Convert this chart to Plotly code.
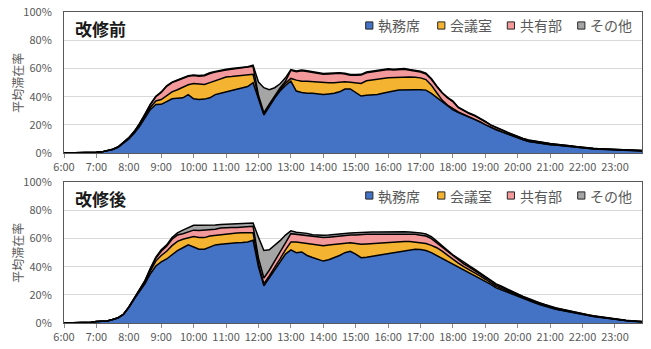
import plotly.graph_objects as go

# Time slots: 10-minute steps from 6:00 to 23:50
TIMES = [f"{h}:{m:02d}" for h in range(6, 24) for m in range(0, 60, 10)]
HOURS = [int(t.split(":")[0]) + int(t.split(":")[1]) / 60 for t in TIMES]
TICK_HOURS = list(range(6, 24))
TICK_LABELS = [f"{h}:00" for h in TICK_HOURS]

SERIES_NAMES = ["執務席", "会議室", "共有部", "その他"]
PANEL_TITLES = ["改修前", "改修後"]

# 改修前 (average occupancy, %)
BEFORE_DESK = [
    0, 0, 0, 0.3, 0.3, 0.4,
    0.5, 0.8, 1.5, 2.5, 4, 7,
    10, 14, 19, 25, 31, 34.5,
    34.6, 36.5, 38.5, 39, 39.2, 41.5,
    38.5, 38, 38.3, 39.2, 41.5, 42.5,
    43.5, 44.5, 45, 46, 47.2, 50,
    38, 27, 33, 39, 44, 48,
    51, 44, 43, 42.4, 42.4, 41.8,
    41.6, 42, 42.4, 43.5, 45.5, 45.5,
    43, 40.5, 41, 41.3, 41.6, 42.5,
    43.5, 44, 44.8, 45, 45, 45,
    45, 44.7, 42.4, 39.3, 36.5, 33.4,
    30.6, 28.8, 27, 25.5, 24, 22,
    20, 18, 16.5, 15, 13.5, 12,
    10.6, 9.3, 8.2, 7.5, 7, 6.3,
    5.9, 5.6, 5.4, 5.2, 4.5, 4,
    3.5, 3.2, 2.9, 2.7, 2.5, 2.4,
    2.2, 1.9, 1.7, 1.6, 1.5, 1.5,
]
BEFORE_MEETING = [
    0, 0, 0, 0, 0, 0,
    0, 0, 0, 0, 0.1, 0.2,
    0.3, 0.4, 0.8, 1, 1.5, 2.5,
    3.4, 4.5, 5, 6, 7.8, 7,
    10.9, 10.8, 10.4, 10.8, 10, 10.5,
    10.5, 9.8, 9.6, 9, 8.1, 6,
    1.5, 0.8, 0.8, 0.8, 1, 1.5,
    2, 7.8, 8, 8.6, 8.3, 8.4,
    8.4, 8, 7.6, 6.8, 5.1, 4.8,
    6.8, 8.9, 10.3, 10.7, 10.9, 10.5,
    9.9, 9.6, 9.2, 9, 9, 8.8,
    8.4, 7.5, 5.8, 3.5, 1.1, 0.7,
    0.9, 0.4, 0.4, 0.3, 0.3, 0.3,
    0.2, 0.2, 0.2, 0.2, 0.2, 0.2,
    0.1, 0.1, 0.1, 0.1, 0.1, 0.1,
    0.1, 0.1, 0.1, 0.1, 0.1, 0.1,
    0.1, 0.1, 0.1, 0.1, 0.1, 0.1,
    0.1, 0.1, 0.1, 0.1, 0.1, 0.1,
]
BEFORE_SHARED = [
    0, 0, 0, 0, 0, 0,
    0, 0, 0, 0.1, 0.2, 0.3,
    0.5, 0.8, 1, 1.5, 2, 3,
    5, 6.4, 6.5, 6.5, 6, 6,
    5.6, 5.8, 6.2, 6.5, 6, 5.5,
    5, 5.2, 5.4, 5.3, 5.4, 5.6,
    1.5, 0.8, 1, 1, 1.2, 1.5,
    5.8, 6, 7.5, 7, 6.8, 6.5,
    6, 6.2, 6.5, 6.3, 5.5, 5,
    5.5, 6, 5.7, 5.5, 5.8, 6,
    5.9, 5.4, 5.5, 5.5, 4.8, 4.6,
    4.2, 4, 4.2, 4.5, 5, 5,
    5, 3, 2.6, 2.3, 2.2, 2.2,
    2, 1.6, 1.2, 1.1, 1, 0.9,
    0.8, 0.7, 0.7, 0.7, 0.7, 0.6,
    0.6, 0.5, 0.4, 0.4, 0.3, 0.3,
    0.3, 0.2, 0.2, 0.2, 0.2, 0.2,
    0.2, 0.2, 0.1, 0.1, 0.1, 0.1,
]
BEFORE_OTHER = [
    0, 0, 0, 0, 0, 0,
    0, 0, 0, 0.1, 0.1, 0.1,
    0.1, 0.2, 0.2, 0.3, 0.3, 0.3,
    0.4, 0.4, 0.4, 0.4, 0.4, 0.4,
    0.5, 0.5, 0.5, 0.5, 0.5, 0.5,
    0.5, 0.5, 0.5, 0.5, 0.6, 0.8,
    9.4, 17.8, 10.2, 5.6, 3, 2.4,
    0.4, 0.5, 0.5, 0.5, 0.5, 0.5,
    0.5, 0.5, 0.5, 0.5, 0.5, 0.5,
    0.5, 0.5, 0.5, 0.5, 0.5, 0.5,
    0.5, 0.5, 0.5, 0.5, 0.5, 0.5,
    0.5, 0.5, 0.5, 0.4, 0.4, 0.4,
    0.4, 0.3, 0.3, 0.3, 0.3, 0.3,
    0.2, 0.2, 0.2, 0.2, 0.2, 0.2,
    0.2, 0.2, 0.2, 0.2, 0.2, 0.2,
    0.1, 0.1, 0.1, 0.1, 0.1, 0.1,
    0.1, 0.1, 0.1, 0.1, 0.1, 0.1,
    0.1, 0.1, 0.1, 0.1, 0.1, 0.1,
]

# 改修後 (average occupancy, %)
AFTER_DESK = [
    0, 0, 0, 0, 0.2, 0.5,
    1, 1.2, 1.5, 2.5, 3.5, 6,
    11, 17, 23, 28, 35, 40.5,
    43.5, 45.5, 48.5, 51.5, 53.5, 55.5,
    54, 52.5, 52.5, 54, 55.5, 56,
    56.5, 56.8, 57, 57.2, 57.6, 58.8,
    40, 26.5, 32, 37.7, 43.6, 49,
    52, 50, 50.5, 48, 46.5, 45,
    44, 45, 46.4, 48, 50, 51,
    49, 46.4, 46.8, 47.4, 48, 49,
    49.5, 50, 50.5, 51, 51.8, 52.4,
    52.2, 51.5, 50, 48, 46, 43.5,
    41.5, 39.5, 37.5, 36, 34, 32,
    29.8, 27.5, 25, 23.5, 22, 20.5,
    18.6, 17.2, 15.8, 14.5, 13.2, 11.9,
    10.7, 9.8, 9, 8.2, 7.4, 6.6,
    6, 5.3, 4.6, 4, 3.5, 2.9,
    2.4, 2, 1.6, 1.3, 1, 0.8,
]
AFTER_MEETING = [
    0, 0, 0, 0, 0, 0,
    0, 0, 0, 0, 0.1, 0.1,
    0.2, 0.3, 0.5, 1, 2, 3.5,
    4.5, 5.5, 6.5, 6.5, 6, 5,
    7.5, 8.3, 8.2, 7.8, 6.8, 7,
    7, 6.8, 7, 6.9, 6.6, 5.4,
    2, 1.5, 1.5, 1.5, 2, 3,
    5.5, 7.5, 6.5, 8.5, 9.5, 10.5,
    11, 10.5, 9.6, 8.5, 7, 6,
    7.5, 9.6, 9.4, 9.1, 8.8, 8,
    7.5, 7.3, 7, 6.9, 6.1, 5.1,
    4.8, 5, 5.2, 5.5, 5, 4.5,
    3.5, 3, 2.5, 2, 1.8, 1.5,
    1.3, 1.2, 1, 0.9, 0.8, 0.7,
    0.6, 0.5, 0.5, 0.4, 0.4, 0.4,
    0.3, 0.3, 0.3, 0.3, 0.2, 0.2,
    0.2, 0.2, 0.2, 0.2, 0.1, 0.1,
    0.1, 0.1, 0.1, 0.1, 0.1, 0.1,
]
AFTER_SHARED = [
    0, 0, 0, 0, 0, 0,
    0, 0, 0, 0, 0.1, 0.1,
    0.1, 0.2, 0.5, 1, 1.5, 2,
    3, 3.5, 4.5, 4.5, 4, 4,
    4.5, 5, 5.2, 4.5, 4.3, 4.5,
    4.3, 4.2, 3.8, 4, 4.2, 4.5,
    4, 4, 4, 4.5, 4.5, 5,
    6, 5.5, 6, 6, 5.6, 5.5,
    5.7, 5.5, 5.5, 5.5, 5.2, 5.5,
    6.1, 7, 6.8, 6.5, 6.2, 6,
    6, 5.8, 5.5, 5.2, 5.1, 5.5,
    5.4, 5.3, 4.8, 3.5, 3, 2.5,
    2.4, 2.2, 2, 1.8, 1.6, 1.5,
    1.3, 1.2, 1.1, 1, 0.9, 0.8,
    0.7, 0.6, 0.6, 0.5, 0.5, 0.5,
    0.4, 0.4, 0.4, 0.3, 0.3, 0.3,
    0.3, 0.2, 0.2, 0.2, 0.2, 0.2,
    0.1, 0.1, 0.1, 0.1, 0.1, 0.1,
]
AFTER_OTHER = [
    0, 0, 0, 0, 0, 0,
    0, 0, 0, 0, 0.1, 0.1,
    0.1, 0.1, 0.2, 0.3, 0.5, 0.8,
    1, 1, 1.2, 1.5, 2.5, 3,
    3.4, 3.6, 3.5, 3, 3, 2.5,
    2.3, 2.5, 2.8, 2.6, 2.4, 2.3,
    15, 19.5, 14.5, 11.3, 8.4, 5.5,
    2, 1.5, 1.3, 1.2, 1.1, 1.3,
    1.7, 1.6, 1.5, 1.5, 1.6, 1.5,
    1.5, 1.4, 1.5, 1.6, 1.7, 1.8,
    1.8, 1.8, 1.7, 1.7, 1.6, 1.5,
    1.5, 1.4, 1.3, 1.2, 1.2, 1.2,
    1.1, 1, 1, 0.9, 0.9, 0.8,
    0.8, 0.7, 0.7, 0.7, 0.6, 0.6,
    0.5, 0.5, 0.5, 0.4, 0.4, 0.4,
    0.4, 0.3, 0.3, 0.3, 0.3, 0.3,
    0.2, 0.2, 0.2, 0.2, 0.2, 0.2,
    0.2, 0.2, 0.1, 0.1, 0.1, 0.1,
]

COLORS = ["#4472C4", "#F4B432", "#F4999B", "#A5A5A5"]
FONT = "Noto Sans CJK JP"
GREY = "#595959"
W, H = 651, 349

panels = [
    [BEFORE_DESK, BEFORE_MEETING, BEFORE_SHARED, BEFORE_OTHER],
    [AFTER_DESK, AFTER_MEETING, AFTER_SHARED, AFTER_OTHER],
]

# Plot-area geometry in pixels (left, right, top, bottom per panel)
PX_LEFT, PX_RIGHT = 64, 642
PANEL_PX = [(12.3, 153.0), (182.3, 323.0)]


def px_x(x):
    return x / W


def px_y(y):
    return 1 - y / H


fig = go.Figure()

for p, series in enumerate(panels):
    xa = "x" if p == 0 else "x2"
    ya = "y" if p == 0 else "y2"
    for name, vals, color in zip(SERIES_NAMES, series, COLORS):
        fig.add_trace(go.Scatter(
            x=HOURS, y=vals, name=name, xaxis=xa, yaxis=ya,
            mode="lines", stackgroup=f"panel{p}",
            fillcolor=color, line=dict(color="#000000", width=1.5),
            showlegend=False,
        ))

axis_common_x = dict(
    range=[HOURS[0], HOURS[-1]], tickvals=TICK_HOURS, ticktext=TICK_LABELS,
    ticks="outside", ticklen=4, tickcolor="#8c8c8c", tickwidth=1,
    showline=True, linecolor=GREY, linewidth=1, mirror=True,
    showgrid=False, zeroline=False, automargin=False,
    tickfont=dict(family=FONT, size=11, color=GREY),
    domain=[px_x(PX_LEFT), px_x(PX_RIGHT)],
)
axis_common_y = dict(
    range=[0, 100], dtick=20, ticksuffix="%",
    showline=True, linecolor=GREY, linewidth=1, mirror=True,
    showgrid=True, gridcolor="#d9d9d9", gridwidth=1, zeroline=False,
    ticks="", ticklabelstandoff=9, automargin=False,
    tickfont=dict(family=FONT, size=11, color=GREY),
)

fig.update_layout(
    width=W, height=H,
    margin=dict(l=0, r=0, t=0, b=0, autoexpand=False),
    paper_bgcolor="white", plot_bgcolor="white",
    xaxis=dict(anchor="y", **axis_common_x),
    xaxis2=dict(anchor="y2", **axis_common_x),
    yaxis=dict(anchor="x", domain=[px_y(PANEL_PX[0][1]), px_y(PANEL_PX[0][0])], **axis_common_y),
    yaxis2=dict(anchor="x2", domain=[px_y(PANEL_PX[1][1]), px_y(PANEL_PX[1][0])], **axis_common_y),
    showlegend=False,
)

annotations = []
shapes = []
LEGEND_SQ_X = [365.7, 437.7, 507.3, 577.7]
SQ = 7.2
for p, (top, bottom) in enumerate(PANEL_PX):
    # Panel title
    annotations.append(dict(
        text=f"<b>{PANEL_TITLES[p]}</b>", xref="paper", yref="paper",
        x=px_x(73), y=px_y(top + 16.5), xanchor="left", yanchor="middle",
        showarrow=False, font=dict(family=FONT, size=17, color="#1a1a1a"),
    ))
    # Y-axis title
    annotations.append(dict(
        text="平均滞在率", xref="paper", yref="paper",
        x=px_x(18), y=px_y((top + bottom) / 2), textangle=-90,
        xanchor="center", yanchor="middle", showarrow=False,
        font=dict(family=FONT, size=12, color=GREY),
    ))
    # Legend swatches and labels
    cy = top + 13.2
    for name, color, sx in zip(SERIES_NAMES, COLORS, LEGEND_SQ_X):
        shapes.append(dict(
            type="rect", xref="paper", yref="paper",
            x0=px_x(sx), x1=px_x(sx + SQ), y0=px_y(cy + SQ / 2), y1=px_y(cy - SQ / 2),
            fillcolor=color, line=dict(color="#262626", width=1),
        ))
        annotations.append(dict(
            text=name, xref="paper", yref="paper",
            x=px_x(sx + SQ + 3.5), y=px_y(cy), xanchor="left", yanchor="middle",
            showarrow=False, font=dict(family=FONT, size=14, color=GREY),
        ))

fig.update_layout(annotations=annotations, shapes=shapes)

fig.write_html("out.html")
